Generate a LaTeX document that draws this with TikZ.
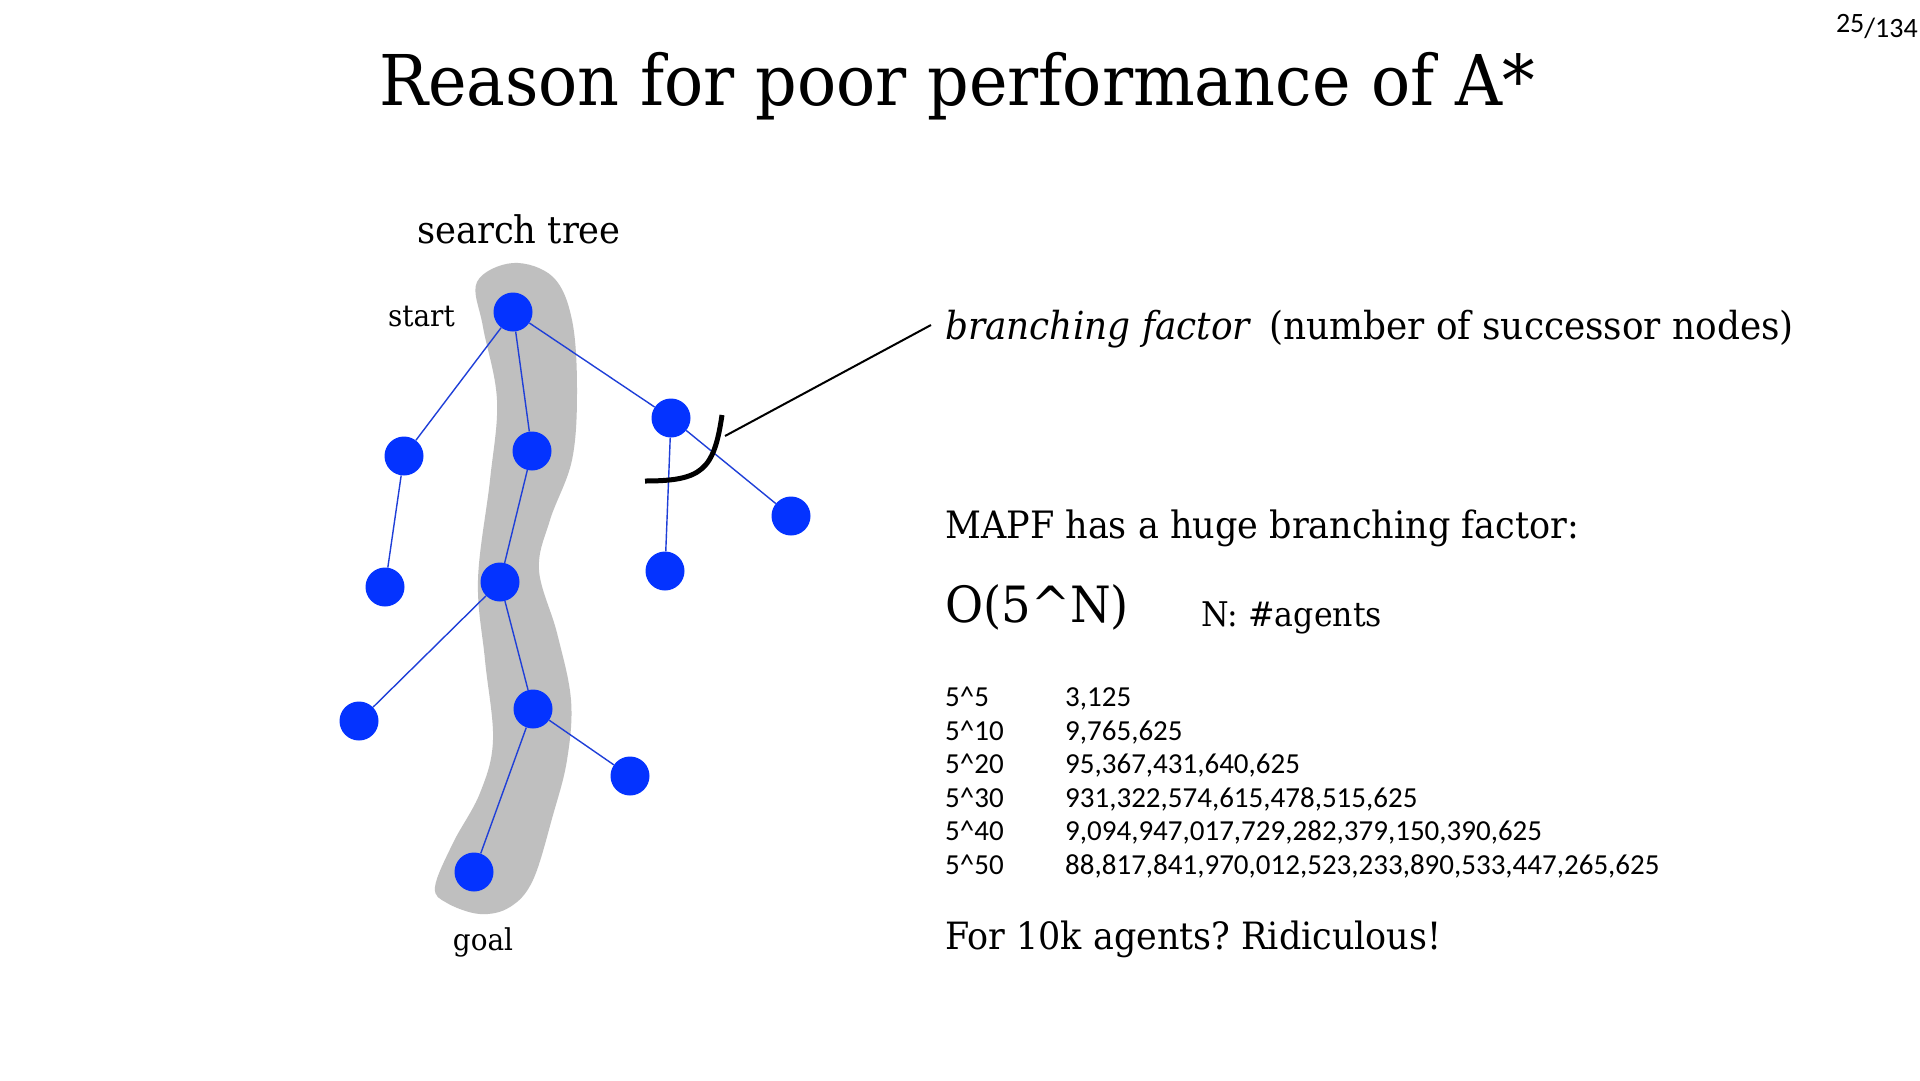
\documentclass[tikz,border=0pt]{standalone}
\usepackage{fontspec}
\setmainfont{DejaVu Serif}[FakeStretch=0.93]
\newfontfamily\tabfont{Carlito}
\usetikzlibrary{positioning}
\definecolor{nodeblue}{HTML}{0433FF}
\definecolor{edgeblue}{HTML}{1F3FD8}
\definecolor{bandgray}{HTML}{BFBFBF}
\newcommand{\pxsize}[1]{\fontsize{#1}{#1}\selectfont}
\frenchspacing

\begin{document}
\begin{tikzpicture}[x=1pt, y=-1pt,
    vert/.style={circle, fill=nodeblue, minimum size=39pt, inner sep=0pt},
    edge/.style={draw=edgeblue, line width=1.4pt},
    txt/.style={inner sep=0pt, anchor=base west}]
  \fill[white] (0,0) rectangle (1920,1080);
  \useasboundingbox (0,0) rectangle (1920,1080);

  % title and page number
  \node[inner sep=0pt, anchor=base] (title) at (957,105) {\pxsize{70}Reason for poor performance of A*};
  \node[inner sep=0pt, anchor=base east] (page) at (1918,37) {\tabfont\pxsize{28}\raisebox{5pt}{25}/134};

  % the path through the tree
  \fill[bandgray] plot[smooth cycle, tension=0.6] coordinates {
    (513,263) (553,277) (572,320) (577,390) (572,460) (550,520) (539,570)
    (557,633) (571,700) (567,760) (553,815) (533,880) (510,907) (480,914)
    (447,903) (435,887) (453,843) (480,793) (493,740) (485,660) (478,580)
    (490,480) (497,400) (483,327) (477,282)};

  % search tree
  \node[vert] (s) at (513,312) {};
  \node[vert] (a) at (404,456) {};
  \node[vert] (b) at (532,451) {};
  \node[vert] (c) at (671,418) {};
  \node[vert] (d) at (385,587) {};
  \node[vert] (e) at (500,582) {};
  \node[vert] (f) at (665,571) {};
  \node[vert] (g) at (791,516) {};
  \node[vert] (h) at (359,721) {};
  \node[vert] (i) at (533,709) {};
  \node[vert] (j) at (630,776) {};
  \node[vert] (t) at (474,872) {};
  \foreach \u/\v in {s/a, s/b, s/c, a/d, b/e, c/f, c/g, e/h, e/i, i/j, i/t}
    \draw[edge] (\u) -- (\v);

  \node[inner sep=0pt, anchor=base] (lbltree) at (519,243) {\pxsize{38}search tree};
  \node[inner sep=0pt, anchor=base east] (lblstart) at (455,326) {\pxsize{30}start};
  \node[inner sep=0pt, anchor=base] (lblgoal) at (483,950) {\pxsize{30}goal};

  % branching factor mark
  \draw[line width=5pt] (722,415) .. controls (714,470) and (702,481) .. (645,481);
  \coordinate (tip) at (725,436);
  \node[txt] (bf) at (945,339) {\pxsize{38.6}\textit{branching factor}\hspace{0.45em}(number of successor nodes)};
  \coordinate (ptr) at (931,325);
  \draw[line width=2pt] (tip) -- (ptr);

  \node[txt] (mapf) at (945,538) {\pxsize{37.7}MAPF has a huge branching factor:};
  \node[txt] (big) at (945,622) {\pxsize{50}O(5\textasciicircum N)};
  \node[txt] (nag) at (1201,626) {\pxsize{34}N: \#agents};

  \foreach \e/\n [count=\k from 0] in {5/{3,125}, 10/{9,765,625}, 20/{95,367,431,640,625},
      30/{931,322,574,615,478,515,625}, 40/{9,094,947,017,729,282,379,150,390,625},
      50/{88,817,841,970,012,523,233,890,533,447,265,625}} {
    \node[txt] (pw\k) at (945,{706.5+33.5*\k}) {\tabfont\pxsize{29}5\textasciicircum\e};
    \node[txt] (pv\k) at (1065,{706.5+33.5*\k}) {\tabfont\pxsize{29}\n};
  }

  \node[txt] (ridic) at (945,949) {\pxsize{37.6}For 10k agents? Ridiculous!};
\end{tikzpicture}
\end{document}
